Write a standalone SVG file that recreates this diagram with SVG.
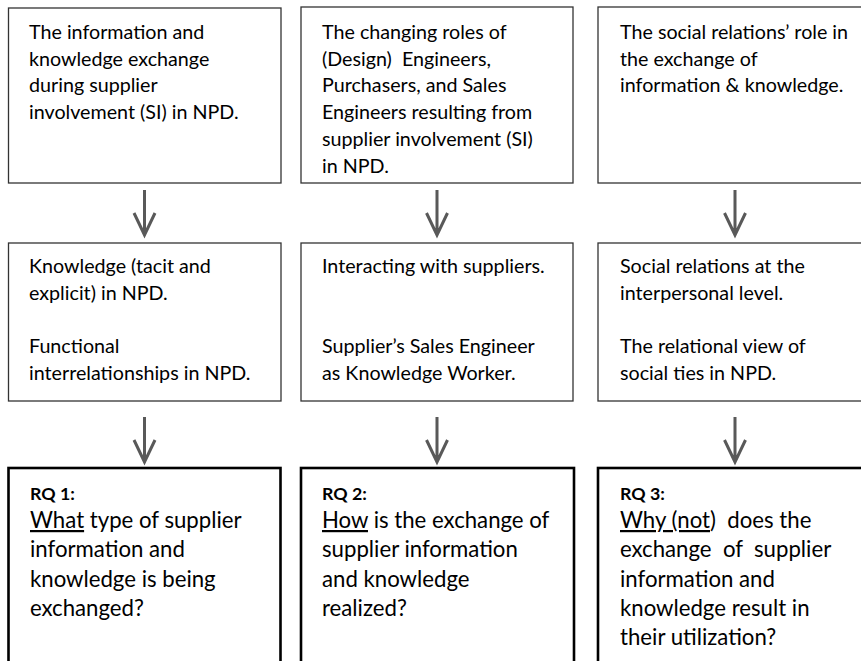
<svg xmlns="http://www.w3.org/2000/svg" width="861" height="661" viewBox="0 0 861 661">
  <style>
    .box { fill: #ffffff; stroke: #333333; stroke-width: 1.3; }
    .rq { fill: #ffffff; stroke: #000000; stroke-width: 2.6; }
    .t { font-family: Lato, "Open Sans", "Liberation Sans", sans-serif; font-size: 19.7px; fill: #000000; }
    .q { font-family: Lato, "Open Sans", "Liberation Sans", sans-serif; font-size: 22.2px; fill: #000000; }
    .h { font-family: Lato, "Open Sans", "Liberation Sans", sans-serif; font-size: 17.8px; font-weight: bold; fill: #000000; }
    .u { text-decoration: underline; }
    .arrow { stroke: #595959; stroke-width: 3; fill: none; }
  </style>
  <rect width="861" height="661" fill="#ffffff"/>

  <!-- top row: themes -->
  <g id="theme1">
    <rect class="box" x="8.5" y="8" width="272.5" height="175"/>
    <text class="t" x="29" y="39">The information and</text>
    <text class="t" x="29" y="65.7">knowledge exchange</text>
    <text class="t" x="29" y="92.4">during supplier</text>
    <text class="t" x="29" y="119.1">involvement (SI) in NPD.</text>
  </g>
  <g id="theme2">
    <rect class="box" x="301" y="7" width="272" height="176"/>
    <text class="t" x="322" y="39">The changing roles of</text>
    <text class="t" x="322" y="65.7" xml:space="preserve">(Design)  Engineers,</text>
    <text class="t" x="322" y="92.4">Purchasers, and Sales</text>
    <text class="t" x="322" y="119.1">Engineers resulting from</text>
    <text class="t" x="322" y="145.8">supplier involvement (SI)</text>
    <text class="t" x="322" y="172.5">in NPD.</text>
  </g>
  <g id="theme3">
    <rect class="box" x="598" y="7" width="280" height="176"/>
    <text class="t" x="620" y="39">The social relations’ role in</text>
    <text class="t" x="620" y="65.7">the exchange of</text>
    <text class="t" x="620" y="92.4">information &amp; knowledge.</text>
  </g>

  <!-- middle row: literature -->
  <g id="lit1">
    <rect class="box" x="8.5" y="243" width="272.5" height="158"/>
    <text class="t" x="29" y="273">Knowledge (tacit and</text>
    <text class="t" x="29" y="299.7">explicit) in NPD.</text>
    <text class="t" x="29" y="353.1">Functional</text>
    <text class="t" x="29" y="379.8">interrelationships in NPD.</text>
  </g>
  <g id="lit2">
    <rect class="box" x="301" y="243" width="272" height="158"/>
    <text class="t" x="322" y="273">Interacting with suppliers.</text>
    <text class="t" x="322" y="353.1">Supplier’s Sales Engineer</text>
    <text class="t" x="322" y="379.8">as Knowledge Worker.</text>
  </g>
  <g id="lit3">
    <rect class="box" x="598" y="243" width="280" height="158"/>
    <text class="t" x="620" y="273">Social relations at the</text>
    <text class="t" x="620" y="299.7">interpersonal level.</text>
    <text class="t" x="620" y="353.1">The relational view of</text>
    <text class="t" x="620" y="379.8">social ties in NPD.</text>
  </g>

  <!-- bottom row: research questions -->
  <g id="rq1">
    <rect class="rq" x="8.5" y="468" width="272" height="220"/>
    <text class="h" x="30" y="500">RQ 1:</text>
    <text class="q" x="30" y="528"><tspan class="u">What</tspan> type of supplier</text>
    <text class="q" x="30" y="557.3">information and</text>
    <text class="q" x="30" y="586.6">knowledge is being</text>
    <text class="q" x="30" y="615.9">exchanged?</text>
  </g>
  <g id="rq2">
    <rect class="rq" x="301" y="468" width="273" height="220"/>
    <text class="h" x="322" y="500">RQ 2:</text>
    <text class="q" x="322" y="528"><tspan class="u">How</tspan> is the exchange of</text>
    <text class="q" x="322" y="557.3">supplier information</text>
    <text class="q" x="322" y="586.6">and knowledge</text>
    <text class="q" x="322" y="615.9">realized?</text>
  </g>
  <g id="rq3">
    <rect class="rq" x="598" y="468" width="280" height="220"/>
    <text class="h" x="620" y="500">RQ 3:</text>
    <text class="q" x="620" y="528" xml:space="preserve"><tspan class="u">Why (not</tspan>)  does the</text>
    <text class="q" x="620" y="557.3" xml:space="preserve">exchange  of  supplier</text>
    <text class="q" x="620" y="586.6">information and</text>
    <text class="q" x="620" y="615.9">knowledge result in</text>
    <text class="q" x="620" y="645.2">their utilization?</text>
  </g>

  <!-- connectors -->
  <g id="connectors" class="arrow">
    <path d="M144.5 190 V234 M134 213 L144.5 235 L155 213"/>
    <path d="M437 190 V234 M426.5 213 L437 235 L447.5 213"/>
    <path d="M735 190 V234 M724.5 213 L735 235 L745.5 213"/>
    <path d="M144.5 417 V461 M134 440 L144.5 462 L155 440"/>
    <path d="M437 417 V461 M426.5 440 L437 462 L447.5 440"/>
    <path d="M735 417 V461 M724.5 440 L735 462 L745.5 440"/>
  </g>
</svg>
